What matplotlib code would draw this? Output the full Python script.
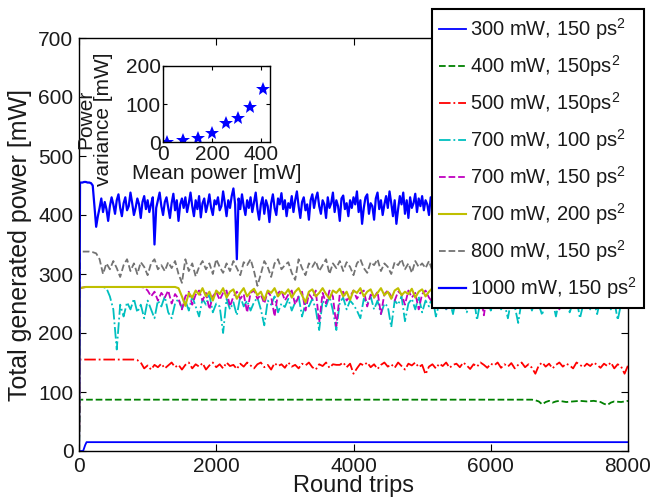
import numpy as np
import matplotlib
matplotlib.use('Agg')
import matplotlib.pyplot as plt

plt.rcParams['font.family'] = ['Liberation Sans', 'DejaVu Sans']
plt.rcParams['mathtext.fontset'] = 'custom'
plt.rcParams['mathtext.rm'] = 'Liberation Sans'
plt.rcParams['mathtext.it'] = 'Liberation Sans:italic'

# round trip grids: 50 for most traces, 25 for the 1000 mW one
rt = [0, 15] + list(range(50, 8001, 50))
rt_fine = [0, 15] + list(range(25, 8001, 25))

p_300 = [0, 0, 10, 15, 15]
rt_300 = [0, 60, 90, 110, 8000]

rt_400 = [0, 15, 6600, 6650, 6700, 6750, 6800, 6850, 6900, 6950, 7000, 7100,
          7200, 7300, 7400, 7500, 7600, 7650, 7700, 7750, 7800, 7900, 8000]
p_400 = [0, 87, 87, 86, 84, 79, 83, 85, 82, 84, 85, 83,
         84, 85, 84, 85, 83, 80, 78, 82, 84, 83, 85]

p_500 = [0, 155,
         155, 155, 155, 155, 155, 155, 155, 155, 155, 155,
         155, 155, 155, 155, 155, 155, 154, 150, 140, 145,
         138, 146, 142, 148, 140, 145, 150, 142, 146, 138,
         146, 150, 140, 147, 143, 149, 138, 145, 150, 142,
         147, 140, 150, 144, 146, 139, 148, 143, 150, 145,
         140, 147, 150, 142, 146, 138, 149, 144, 147, 141,
         150, 143, 146, 140, 148, 145, 150, 142, 138, 147,
         144, 150, 141, 147, 146, 146, 150, 142, 148, 131,
         140, 148, 145, 150, 142, 147, 139, 146, 150, 143,
         147, 141, 150, 144, 138, 148, 145, 150, 142, 146,
         130, 143, 147, 140, 148, 144, 150, 141, 146, 148,
         142, 150, 145, 139, 147, 143, 150, 146, 141, 148,
         145, 150, 141, 147, 143, 149, 140, 146, 150, 142,
         147, 141, 131, 145, 150, 143, 148, 140, 146, 150,
         143, 148, 145, 140, 150, 146, 142, 148, 144, 150,
         146, 141, 148, 144, 150, 140, 147, 143, 131, 145]

p_700_100 = [0, 276,
             277, 278, 278, 278, 278, 278, 278, 276, 262, 240,
             172, 248, 228, 252, 240, 258, 235, 248, 225, 255,
             240, 225, 255, 245, 262, 235, 225, 250, 258, 242,
             255, 238, 262, 245, 228, 258, 248, 265, 235, 250,
             245, 200, 258, 240, 252, 230, 262, 245, 255, 238,
             252, 260, 240, 213, 255, 248, 262, 235, 250, 244,
             258, 238, 252, 262, 228, 250, 245, 258, 240, 205,
             255, 245, 262, 238, 205, 252, 260, 240, 255, 248,
             238, 225, 258, 250, 262, 240, 255, 232, 250, 245,
             210, 255, 248, 262, 220, 250, 258, 240, 262, 235,
             255, 245, 262, 228, 250, 258, 240, 255, 232, 262,
             248, 258, 235, 252, 262, 222, 255, 245, 260, 238,
             255, 262, 240, 250, 225, 258, 245, 217, 255, 248,
             262, 238, 255, 248, 230, 260, 245, 255, 228, 258,
             245, 262, 235, 252, 258, 225, 250, 262, 240, 255,
             232, 258, 248, 262, 240, 255, 222, 250, 258, 245]

p_700_150 = [0, 276,
             277, 278, 278, 278, 278, 278, 278, 278, 278, 278,
             278, 278, 278, 278, 278, 278, 278, 278, 277, 272,
             262, 270, 255, 268, 260, 272, 250, 266, 258, 240,
             262, 270, 248, 265, 272, 255, 268, 240, 262, 270,
             256, 268, 272, 245, 262, 270, 258, 266, 235, 268,
             272, 258, 265, 250, 270, 262, 228, 268, 272, 255,
             265, 272, 248, 262, 270, 238, 266, 258, 272, 218,
             268, 250, 272, 262, 212, 266, 270, 255, 262, 272,
             258, 268, 272, 245, 265, 260, 270, 232, 266, 272,
             262, 255, 270, 266, 248, 272, 260, 268, 240, 266,
             272, 260, 252, 268, 265, 270, 238, 262, 272, 256,
             266, 272, 248, 262, 270, 258, 266, 230, 270, 262,
             255, 268, 272, 260, 242, 266, 270, 258, 272, 250,
             268, 262, 272, 245, 266, 270, 256, 262, 272, 240,
             262, 270, 255, 268, 272, 248, 265, 270, 258, 266,
             272, 255, 266, 270, 242, 262, 272, 258, 268, 260]

p_700_200 = [0, 276,
             277, 278, 278, 278, 278, 278, 278, 278, 278, 278,
             278, 278, 278, 278, 278, 278, 278, 278, 278, 278,
             278, 278, 278, 278, 278, 278, 278, 278, 276, 262,
             246, 268, 260, 272, 265, 276, 262, 270, 255, 272,
             266, 276, 260, 270, 274, 258, 268, 276, 262, 270,
             275, 264, 270, 256, 272, 268, 276, 262, 270, 266,
             274, 260, 270, 276, 264, 252, 270, 274, 262, 268,
             276, 266, 258, 272, 268, 275, 262, 270, 256, 272,
             268, 276, 262, 270, 274, 260, 268, 276, 264, 270,
             258, 272, 276, 264, 270, 266, 275, 260, 270, 274,
             262, 270, 276, 266, 258, 272, 268, 276, 262, 270,
             274, 264, 270, 256, 272, 276, 262, 268, 274, 266,
             270, 260, 276, 268, 272, 262, 270, 276, 258, 268,
             274, 266, 270, 262, 276, 268, 256, 272, 270, 276,
             264, 270, 274, 260, 268, 276, 266, 270, 262, 274,
             268, 276, 260, 270, 272, 264, 276, 262, 270, 268]

p_800 = [0, 335,
         338, 338, 338, 337, 335, 325, 300, 318, 308, 322,
         310, 295, 315, 325, 305, 318, 300, 320, 312, 298,
         318, 325, 308, 315, 305, 320, 310, 322, 300, 285,
         325, 305, 318, 296, 312, 322, 308, 318, 300, 325,
         312, 302, 318, 305, 322, 310, 298, 320, 315, 325,
         305, 280, 300, 322, 312, 295, 318, 325, 308, 315,
         320, 302, 290, 325, 310, 298, 318, 312, 322, 305,
         315, 325, 300, 318, 310, 322, 305, 320, 312, 298,
         318, 325, 310, 302, 320, 315, 325, 305, 318, 312,
         300, 320, 315, 325, 308, 318, 302, 322, 312, 318,
         310, 322, 305, 318, 312, 300, 320, 315, 325, 308,
         318, 305, 322, 312, 298, 320, 315, 308, 325, 312,
         305, 318, 322, 310, 300, 318, 312, 325, 308, 315,
         320, 308, 315, 325, 302, 318, 312, 305, 322, 315,
         310, 325, 305, 318, 312, 300, 322, 315, 308, 320,
         315, 305, 322, 310, 318, 300, 325, 312, 308, 318]

p_1000 = [0, 455,
          455, 455, 456, 456, 455, 455, 454, 450, 415, 380, 398, 412, 428, 405, 422, 410, 390, 415, 430, 418,
          402, 425, 435, 412, 398, 420, 430, 408, 415, 438, 420, 400, 412, 428, 418, 395, 422, 432, 410, 425,
          405, 418, 430, 350, 412, 425, 438, 415, 400, 422, 430, 412, 395, 420, 436, 408, 425, 390, 418, 428,
          412, 430, 405, 420, 438, 415, 398, 425, 410, 432, 396, 420, 428, 405, 418, 435, 412, 400, 425, 418,
          430, 408, 415, 440, 420, 398, 425, 412, 432, 445, 418, 325, 428, 410, 435, 415, 400, 425, 412, 430,
          405, 422, 438, 410, 392, 418, 430, 402, 425, 415, 388, 420, 435, 412, 400, 428, 418, 437, 410, 425,
          398, 420, 412, 432, 405, 425, 440, 415, 395, 422, 430, 408, 418, 392, 425, 435, 412, 428, 438, 415,
          402, 425, 418, 395, 430, 412, 420, 438, 405, 425, 415, 390, 428, 433, 410, 420, 398, 425, 412, 430,
          418, 440, 405, 425, 385, 412, 430, 435, 402, 420, 415, 392, 428, 438, 410, 425, 400, 418, 432, 412,
          440, 420, 398, 425, 385, 410, 432, 418, 438, 402, 425, 395, 430, 412, 420, 436, 405, 428, 415, 432,
          408, 425, 418, 400, 430, 412, 420, 435, 398, 422, 415, 430, 405, 425, 438, 410, 420, 395, 428, 415,
          432, 405, 420, 412, 438, 400, 425, 418, 430, 395, 420, 435, 410, 425, 402, 428, 415, 438, 408, 422,
          412, 430, 398, 425, 418, 436, 405, 420, 392, 428, 415, 432, 408, 425, 420, 400, 430, 412, 438, 418,
          425, 402, 420, 435, 410, 428, 395, 418, 432, 405, 425, 415, 438, 400, 422, 430, 412, 420, 398, 428,
          415, 432, 408, 425, 420, 392, 430, 418, 436, 405, 422, 412, 428, 398, 425, 438, 410, 420, 402, 430,
          418, 405, 428, 415, 432, 400, 425, 412, 438, 420, 395, 428, 410, 425, 418, 435, 405, 420, 412, 425]

# inset: power variance against mean power
mean_power = [16, 81, 142, 198, 256, 305, 355, 407]
power_var = [1, 6, 12, 25, 50, 63, 91, 140]

labels = ['300 mW, 150 ps$^2$', '400 mW, 150ps$^2$', '500 mW, 150ps$^2$',
          '700 mW, 100 ps$^2$', '700 mW, 150 ps$^2$', '700 mW, 200 ps$^2$',
          '800 mW, 150 ps$^2$', '1000 mW, 150 ps$^2$']

txt = '#1a1a1a'
fig = plt.figure(figsize=(6.52, 5.0), dpi=100)
ax = fig.add_axes([79/652, 1-451/500, 549/652, 413/500])

lw = 1.3
ax.plot(rt_300, p_300, '-', color=(0, 0, 1), lw=lw, label=labels[0])
ax.plot(rt_400, p_400, '--', color=(0, 0.5, 0), lw=lw, label=labels[1])
ax.plot(rt, p_500, '-.', color=(1, 0, 0), lw=lw, label=labels[2])
ax.plot(rt, p_700_100, '-.', color=(0, 0.75, 0.75), lw=lw, label=labels[3])
ax.plot(rt, p_700_150, '--', color=(0.75, 0, 0.75), lw=lw, label=labels[4])
ax.plot(rt, p_700_200, '-', color=(0.75, 0.75, 0), lw=1.5, label=labels[5])
ax.plot(rt, p_800, '--', color=(0.45, 0.45, 0.45), lw=lw, label=labels[6])
ax.plot(rt_fine, p_1000, '-', color=(0, 0, 1), lw=1.6, label=labels[7])

ax.set_xlim(0, 8000)
ax.set_ylim(0, 700)
ax.set_xticks(range(0, 8001, 2000))
ax.set_yticks(range(0, 701, 100))
ax.tick_params(direction='in', top=True, right=True, length=5, width=0.8,
               labelsize=15, colors='black', labelcolor=txt, pad=4)
for s in ax.spines.values():
    s.set_linewidth(1.0)
ax.set_xlabel('Round trips', fontsize=17, color=txt)
ax.set_ylabel('Total generated power [mW]', fontsize=18, color=txt)
ax.xaxis.set_label_coords(0.5, -0.057)
ax.yaxis.set_label_coords(-0.085, 0.5)

leg = ax.legend(loc='upper left', bbox_to_anchor=(432/652, 1-9/500),
                bbox_transform=fig.transFigure, fontsize=14.5,
                frameon=True, fancybox=False, framealpha=1, borderaxespad=0,
                handlelength=1.35, handletextpad=0.2, borderpad=0.35,
                labelspacing=0.55)
leg.get_frame().set_edgecolor('black')
leg.get_frame().set_linewidth(1.5)
for t in leg.get_texts():
    t.set_color(txt)
leg.set_zorder(10)

# inset axes
axi = fig.add_axes([163.3/652, 1-142.3/500, 106.7/652, 76.6/500])
axi.plot(mean_power, power_var, '*', color=(0, 0, 1), markersize=10.5,
         markeredgewidth=0)
axi.set_xlim(0, 435)
axi.set_ylim(0, 200)
axi.set_xticks([0, 200, 400])
axi.set_yticks([0, 100, 200])
axi.tick_params(direction='in', top=True, right=True, length=3, width=0.8,
                labelsize=15, labelcolor=txt, pad=2)
for s in axi.spines.values():
    s.set_linewidth(1.0)
axi.set_xlabel('Mean power [mW]', fontsize=15, color=txt, labelpad=0)
axi.set_ylabel('Power\nvariance [mW]', fontsize=15, color=txt,
               multialignment='center', linespacing=0.95)
axi.yaxis.set_label_coords(-0.47, 0.3)

fig.savefig('out.png', dpi=100)
